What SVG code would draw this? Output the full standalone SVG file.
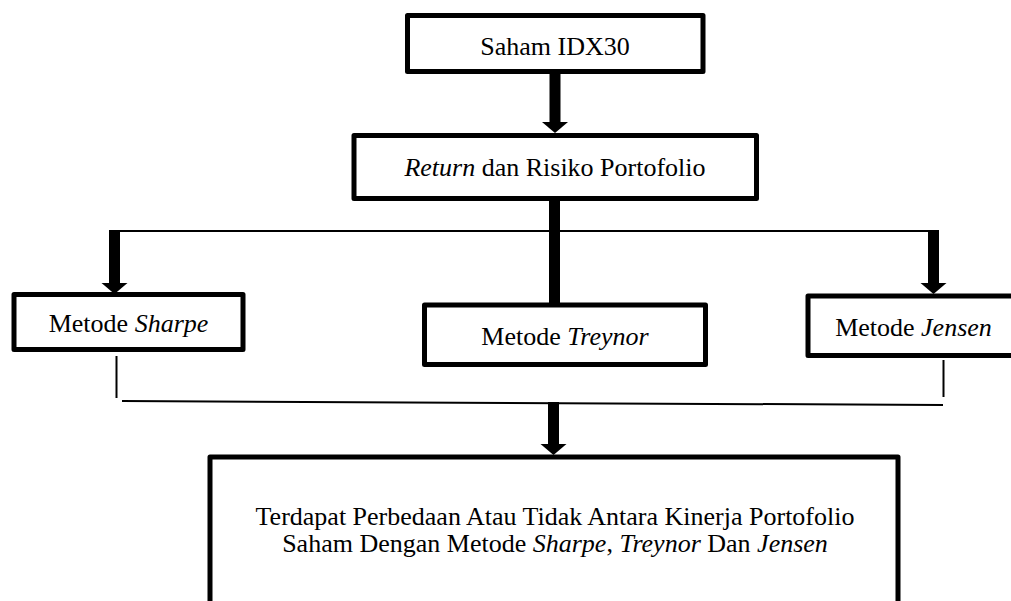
<svg xmlns="http://www.w3.org/2000/svg" width="1011" height="601" viewBox="0 0 1011 601">
<style>
.box{fill:#fff;stroke:#000;stroke-width:5;stroke-linejoin:round}
.thick{stroke:#000;stroke-width:11;fill:none}
.thin{stroke:#000;stroke-width:2;fill:none}
</style>
<defs>
<marker id="ah" markerUnits="userSpaceOnUse" markerWidth="12" markerHeight="26" refX="0" refY="13" orient="auto" viewBox="0 0 12 26" overflow="visible">
<path d="M0,0 L11,13 L0,26 Z" fill="#000"/>
</marker>
</defs>
<rect width="1011" height="601" fill="#fff"/>
<g id="connectors">
<line class="thick" x1="555" y1="73" x2="555" y2="122" marker-end="url(#ah)"/>
<line class="thick" x1="554.5" y1="198" x2="554.5" y2="305"/>
<line class="thin" x1="114" y1="231" x2="933" y2="231"/>
<line class="thick" x1="114.5" y1="230" x2="114.5" y2="283" marker-end="url(#ah)"/>
<line class="thick" x1="933.5" y1="230" x2="933.5" y2="283" marker-end="url(#ah)"/>
<line class="thin" x1="116.5" y1="356" x2="116.5" y2="398"/>
<line class="thin" x1="943.5" y1="360" x2="943.5" y2="397"/>
<line class="thin" x1="122" y1="401" x2="943" y2="405"/>
<line class="thick" x1="553.5" y1="402" x2="553.5" y2="444" marker-end="url(#ah)"/>
</g>
<g font-family="Liberation Serif, serif" font-size="26" fill="#000" text-anchor="middle">
<g id="saham">
<rect class="box" x="407.5" y="15.5" width="295.5" height="56"/>
<text x="555" y="55">Saham IDX30</text>
</g>
<g id="return">
<rect class="box" x="354" y="135.5" width="402.5" height="63"/>
<text x="555" y="176"><tspan font-style="italic">Return</tspan> dan Risiko Portofolio</text>
</g>
<g id="sharpe">
<rect class="box" x="14" y="294.5" width="229" height="55"/>
<text x="128.5" y="332">Metode <tspan font-style="italic">Sharpe</tspan></text>
</g>
<g id="treynor">
<rect class="box" x="424.5" y="305" width="281" height="59.5"/>
<text x="565" y="345">Metode <tspan font-style="italic">Treynor</tspan></text>
</g>
<g id="jensen">
<rect class="box" x="808" y="296" width="211" height="59.5"/>
<text x="913.5" y="336">Metode <tspan font-style="italic">Jensen</tspan></text>
</g>
<g id="result">
<rect class="box" x="210" y="457" width="688" height="200"/>
<text x="555" y="525">Terdapat Perbedaan Atau Tidak Antara Kinerja Portofolio</text>
<text x="555" y="552">Saham Dengan Metode <tspan font-style="italic">Sharpe</tspan>, <tspan font-style="italic">Treynor</tspan> Dan <tspan font-style="italic">Jensen</tspan></text>
</g>
</g>
</svg>
